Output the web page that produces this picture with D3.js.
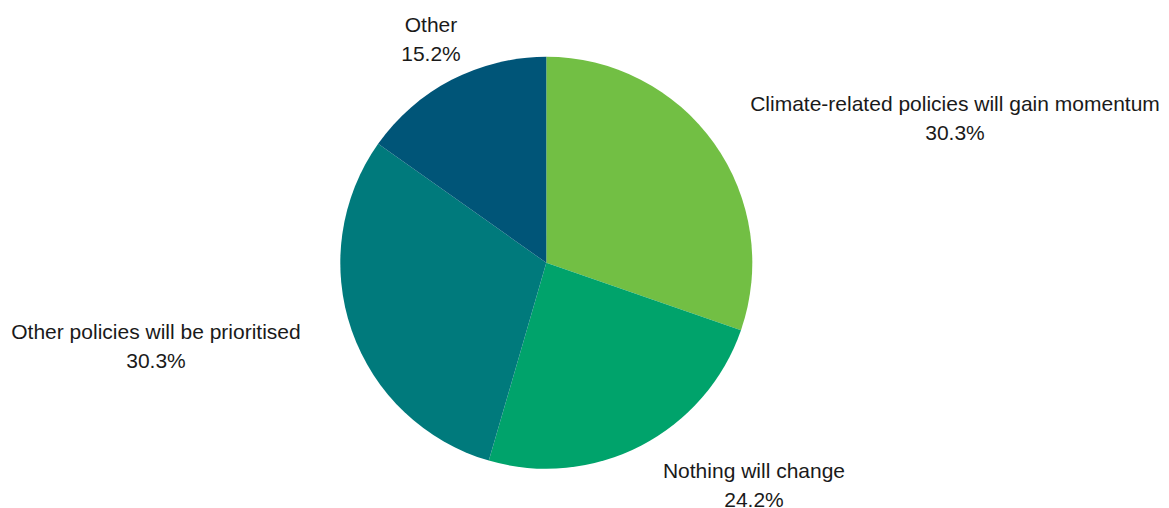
<!DOCTYPE html>
<html>
<head>
<meta charset="utf-8">
<script src="https://cdn.jsdelivr.net/npm/d3@7"></script>
<style>
  html, body { margin: 0; padding: 0; background: #fff; }
  text { font-family: "Liberation Sans", Arial, sans-serif; fill: #1a1a1a; }
</style>
</head>
<body>
<svg id="chart"></svg>
<script>
var width = 1169;
var height = 508;

// slices, clockwise from 12 o'clock
var categories = [
    "Climate-related policies will gain momentum",
    "Nothing will change",
    "Other policies will be prioritised",
    "Other"
];
var shares = [30.3, 24.2, 30.3, 15.2];
var colours = ["#72bf44", "#00a36b", "#007a7c", "#005578"];

// label centres (layout only)
var labelPos = [[955, 111], [754, 478], [156, 339], [431, 32]];

var cx = 546.3, cy = 262.8, radius = 206;
var lineGap = 29;

var svg = d3.select("svg#chart")
    .attr("width", width)
    .attr("height", height);

var pie = d3.pie().sort(null).value(function(d) { return d; });
var arc = d3.arc().innerRadius(0).outerRadius(radius);

var g = svg.append("g")
    .attr("transform", "translate(" + cx + "," + cy + ")");

g.selectAll("path")
    .data(pie(shares))
    .enter().append("path")
    .attr("d", arc)
    .style("fill", function(d, i) { return colours[i]; });

var labels = svg.selectAll("text.label")
    .data(categories)
    .enter().append("text")
    .attr("class", "label")
    .attr("text-anchor", "middle")
    .attr("font-size", 21);

labels.append("tspan")
    .attr("x", function(d, i) { return labelPos[i][0]; })
    .attr("y", function(d, i) { return labelPos[i][1]; })
    .text(function(d) { return d; });

labels.append("tspan")
    .attr("x", function(d, i) { return labelPos[i][0]; })
    .attr("y", function(d, i) { return labelPos[i][1] + lineGap; })
    .text(function(d, i) { return shares[i].toFixed(1) + "%"; });
</script>
</body>
</html>
